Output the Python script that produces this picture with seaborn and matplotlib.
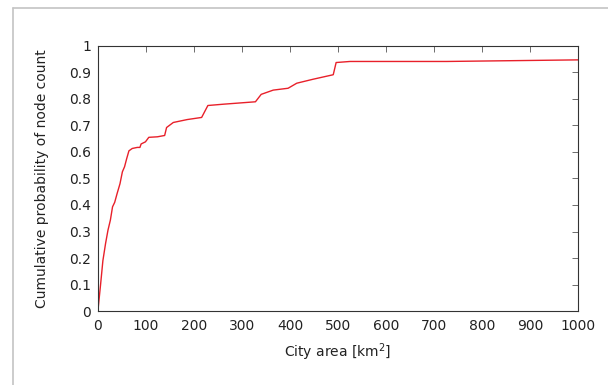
import matplotlib
matplotlib.use("Agg")
import matplotlib.pyplot as plt
from matplotlib.lines import Line2D
import seaborn as sns
import pandas as pd

# City area (km^2) and cumulative probability of node count
area = [0, 5.6, 10.4, 16, 21, 26, 30.5, 35, 40, 46, 51, 55.5, 60, 64.6, 71.5,
        82, 87.5, 90, 99, 106, 124, 139, 143, 157, 186, 216, 229, 262, 328,
        340, 365, 387, 396, 414, 448, 490, 496, 525, 726, 1000]
cum_prob = [0, 0.10, 0.19, 0.255, 0.305, 0.343, 0.393, 0.41, 0.443, 0.48,
            0.525, 0.544, 0.575, 0.604, 0.613, 0.617, 0.617, 0.63, 0.638,
            0.655, 0.657, 0.662, 0.692, 0.711, 0.722, 0.73, 0.775, 0.78,
            0.789, 0.817, 0.833, 0.838, 0.840, 0.859, 0.874, 0.891, 0.937,
            0.941, 0.941, 0.947]

x_ticks = list(range(0, 1001, 100))
y_ticks = [0, 0.1, 0.2, 0.3, 0.4, 0.5, 0.6, 0.7, 0.8, 0.9, 1]
y_tick_labels = ["0", "0.1", "0.2", "0.3", "0.4", "0.5", "0.6", "0.7", "0.8", "0.9", "1"]

df = pd.DataFrame({"area": area, "prob": cum_prob})

sns.set_theme(style="white")
plt.rcParams["font.family"] = ["DejaVu Sans"]

fig = plt.figure(figsize=(6.08, 3.85), dpi=100)
ax = fig.add_axes([0.161, 0.192, 0.790, 0.689])

sns.lineplot(data=df, x="area", y="prob", ax=ax, color="#e8202a",
             linewidth=1.0, sort=False)

ax.set_xlim(0, 1000)
ax.set_ylim(0, 1)
ax.set_xticks(x_ticks)
ax.set_xticklabels([str(v) for v in x_ticks])
ax.set_yticks(y_ticks)
ax.set_yticklabels(y_tick_labels)
ax.set_xlabel("City area [km$^2$]", fontsize=10, color="#222222", labelpad=6)
ax.set_ylabel("Cumulative probability of node count", fontsize=10,
              color="#222222", labelpad=14)

ax.tick_params(direction="in", length=4, width=0.6, color="#555555",
               top=True, right=True, labelsize=10, labelcolor="#222222")
ax.tick_params(axis="x", pad=6)
ax.tick_params(axis="y", pad=5)
for s in ax.spines.values():
    s.set_visible(True)
    s.set_color("#333333")
    s.set_linewidth(0.8)

# light outer frame
fig.add_artist(Line2D([12.5 / 608, 1.0], [1 - 8 / 385, 1 - 8 / 385],
                      transform=fig.transFigure, color="#c4c4c4", linewidth=1.2))
fig.add_artist(Line2D([13 / 608, 13 / 608], [0.0, 1 - 8 / 385],
                      transform=fig.transFigure, color="#c4c4c4", linewidth=1.2))

fig.savefig("out.png", dpi=100, facecolor="white")
